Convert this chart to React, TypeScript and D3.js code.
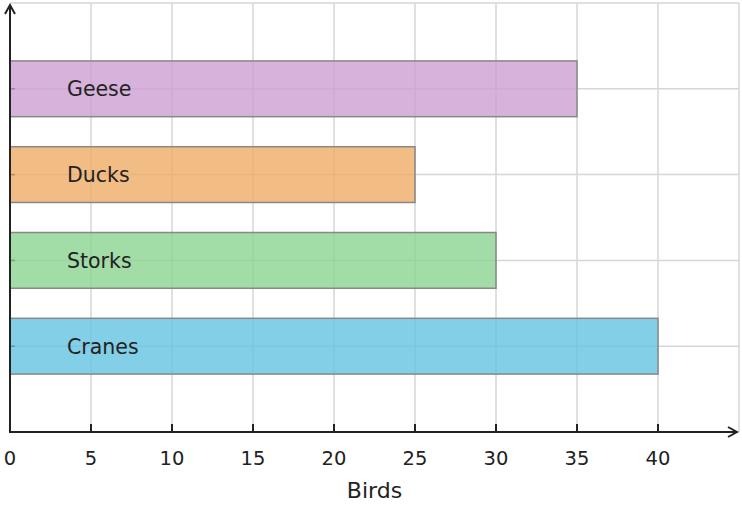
import * as d3 from "d3";

const categories = ["Cranes", "Storks", "Ducks", "Geese"];
const values = [40, 30, 25, 35];
const fills = ["#64c3e2", "#8bd390", "#efab67", "#cd9fd2"];
const xTicks = [0, 5, 10, 15, 20, 25, 30, 35, 40];

export default function App() {
  const width = 742;
  const height = 508;
  const margin = { top: 3, right: 3, bottom: 76, left: 10 };

  const x = d3.scaleLinear().domain([0, 45]).range([margin.left, width - margin.right]);
  const y = d3.scaleLinear().domain([0, 5]).range([height - margin.bottom, margin.top]);
  const barH = y(0) - y(0.65);
  const font = "DejaVu Sans, sans-serif";

  return (
    <svg
      width={width}
      height={height}
      style={{ position: "absolute", left: 0, top: 0 }}
      fontFamily={font}
    >
      {/* grid */}
      {d3.range(1, 10).map((t) => (
        <line
          key={"gx" + t}
          x1={x(t * 5)}
          x2={x(t * 5)}
          y1={y(0)}
          y2={y(5)}
          stroke="#d6d6d6"
          strokeWidth={1.5}
        />
      ))}
      {d3.range(1, 6).map((t) => (
        <line
          key={"gy" + t}
          x1={x(0)}
          x2={x(45)}
          y1={y(t)}
          y2={y(t)}
          stroke="#d6d6d6"
          strokeWidth={1.5}
        />
      ))}

      {/* bars */}
      {categories.map((c, i) => (
        <g key={c}>
          <rect
            x={x(0)}
            y={y(i + 1) - barH / 2}
            width={x(values[i]) - x(0)}
            height={barH}
            fill={fills[i]}
            fillOpacity={0.8}
            stroke="#888"
            strokeWidth={1.5}
          />
          <line
            x1={x(0)}
            x2={x(0) + 5}
            y1={y(i + 1)}
            y2={y(i + 1)}
            stroke={fills[i]}
            strokeWidth={1.5}
            style={{ filter: "brightness(0.8)" }}
          />
          <text
            x={67}
            y={y(i + 1)}
            dy="0.36em"
            fontSize={20.5}
            fill="#222"
          >
            {c}
          </text>
        </g>
      ))}

      {/* axes */}
      <line x1={x(0)} x2={x(0)} y1={y(0) + 1} y2={6} stroke="#222" strokeWidth={2} />
      <path
        d={`M${x(0) - 5},${14} L${x(0)},${5} L${x(0) + 5},${14}`}
        fill="none"
        stroke="#222"
        strokeWidth={2}
      />
      <line x1={x(0) - 1} x2={736} y1={y(0)} y2={y(0)} stroke="#222" strokeWidth={2} />
      <path
        d={`M${728},${y(0) - 5} L${737},${y(0)} L${728},${y(0) + 5}`}
        fill="none"
        stroke="#222"
        strokeWidth={2}
      />
      {xTicks.map((t) => (
        <g key={"t" + t}>
          {t > 0 && (
            <line x1={x(t)} x2={x(t)} y1={y(0) - 8} y2={y(0)} stroke="#222" strokeWidth={2} />
          )}
          <text x={x(t)} y={465} textAnchor="middle" fontSize={19.5} fill="#222">
            {t}
          </text>
        </g>
      ))}
      <text x={x(22.5)} y={498} textAnchor="middle" fontSize={22} fill="#222">
        Birds
      </text>
    </svg>
  );
}
